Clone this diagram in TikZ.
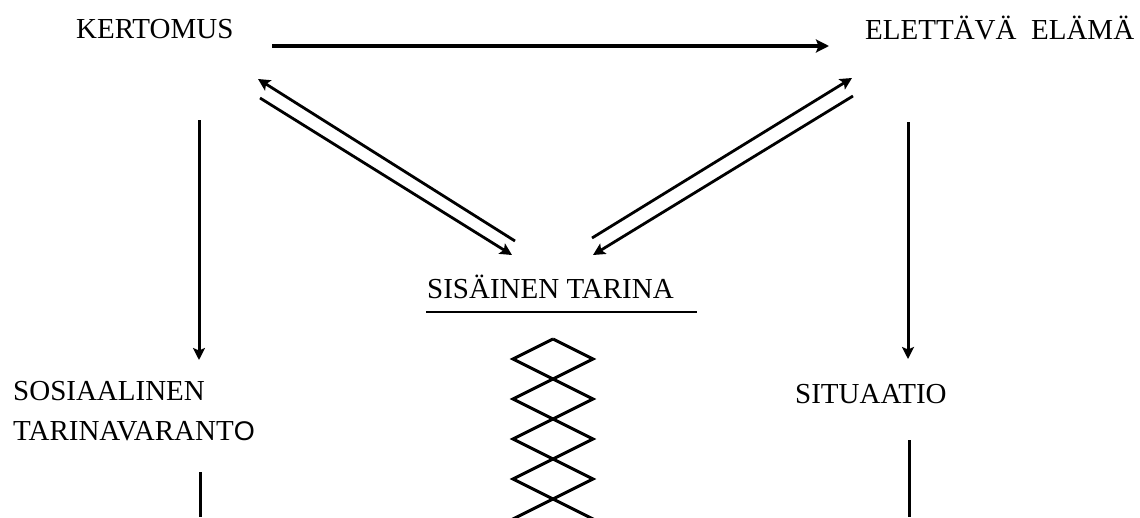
\documentclass[tikz,border=0pt]{standalone}
\usepackage{fontspec}
\setmainfont{Liberation Serif}
\newfontfamily\lsans{Liberation Sans}
\usetikzlibrary{arrows.meta}
\begin{document}
\begin{tikzpicture}[x=1pt,y=-1pt,
  lbl/.style={anchor=base west,inner sep=0pt,font=\fontsize{29}{40}\selectfont},
  arr/.style={line width=3pt,-{Stealth[length=12pt,width=12pt,inset=2.5pt]}},
  diag/.style={line width=2.8pt,-{Stealth[length=12pt,width=12pt,inset=2.5pt]}},
  plain/.style={line width=3pt},
  zz/.style={line width=3pt,line join=miter}]
\useasboundingbox (0,0) rectangle (1140,517);
\clip (0,0) rectangle (1140,517);
% labels
\node[lbl] (kert) at (76,38) {KERTOMUS};
\node[lbl] (elet) at (865,39) {ELETTÄVÄ\ \ ELÄMÄ};
\node[lbl] (sisa) at (427,298) {SISÄINEN TARINA};
\node[lbl] (sos1) at (13,400) {SOSIAALINEN};
\node[lbl] (sos2) at (13,440) {TARINAVARANT{\lsans\fontsize{27}{40}\selectfont O}};
\node[lbl] (situ) at (795,403) {SITUAATIO};
% endpoints
\coordinate (h1) at (272,46);
\coordinate (h2) at (829,46);
\coordinate (lu1) at (515,241);
\coordinate (lu2) at (258,79);
\coordinate (ll1) at (260,98);
\coordinate (ll2) at (512,255);
\coordinate (ru1) at (592,238);
\coordinate (ru2) at (852,78);
\coordinate (rl1) at (853,96);
\coordinate (rl2) at (593,255);
\coordinate (lv1) at (199,120);
\coordinate (lv2) at (199,360);
\coordinate (lw1) at (200,472);
\coordinate (lw2) at (200,517);
\coordinate (rv1) at (908,122);
\coordinate (rv2) at (908,359);
\coordinate (rw1) at (909,440);
\coordinate (rw2) at (909,517);
\coordinate (u1) at (426,312);
\coordinate (u2) at (697,312);
% connectors
\draw[line width=3.8pt,-{Stealth[length=13pt,width=13pt,inset=2.5pt]}] (h1) -- (h2);
\draw[diag] (lu1) -- (lu2);
\draw[diag] (ll1) -- (ll2);
\draw[diag] (ru1) -- (ru2);
\draw[diag] (rl1) -- (rl2);
\draw[arr] (lv1) -- (lv2);
\draw[plain] (lw1) -- (lw2);
\draw[arr] (rv1) -- (rv2);
\draw[plain] (rw1) -- (rw2);
\draw[line width=2.5pt] (u1) -- (u2);
% zigzag chain of diamonds
\draw[zz] (553,339) -- (513,359) -- (593,399) -- (513,439) -- (593,479) -- (513,519) -- (553,539);
\draw[zz] (553,339) -- (593,359) -- (513,399) -- (593,439) -- (513,479) -- (593,519) -- (553,539);
\end{tikzpicture}
\end{document}
